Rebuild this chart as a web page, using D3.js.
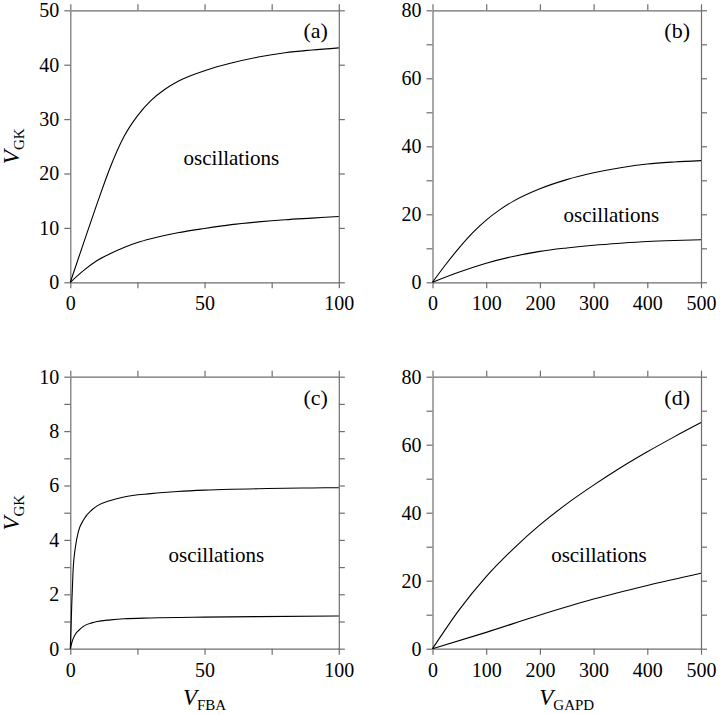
<!DOCTYPE html>
<html>
<head>
<meta charset="utf-8">
<script src="https://cdn.jsdelivr.net/npm/d3@7"></script>
<style>
  body { margin: 0; background: #fff; }
  svg text { font-family: "Liberation Serif", "Tinos", "Times New Roman", "DejaVu Serif", serif; }
</style>
</head>
<body>
<div id="chart"></div>
<script>
// values
// (a) V_GK vs V_FBA
const aXUp = [0, 5, 10, 15, 20, 25, 30, 35, 40, 45, 50, 60, 70, 80, 90, 100];
const aUpper = [0, 7.3, 14.5, 21.3, 26.8, 30.6, 33.4, 35.4, 36.9, 38.0, 38.9, 40.3, 41.4, 42.2, 42.7, 43.1];
const aXLow = [0, 5, 10, 15, 20, 25, 30, 40, 50, 60, 70, 80, 90, 100];
const aLower = [0, 2.2, 4.0, 5.3, 6.4, 7.3, 8.0, 9.1, 9.9, 10.6, 11.1, 11.5, 11.8, 12.1];

// (b) V_GK vs V_GAPD
const bXUp = [0, 25, 50, 75, 100, 125, 150, 200, 250, 300, 350, 400, 450, 500];
const bUpper = [0, 5.3, 10.2, 14.6, 18.3, 21.3, 23.8, 27.5, 30.2, 32.2, 33.7, 34.8, 35.4, 35.8];
const bXLow = [0, 50, 100, 150, 200, 250, 300, 350, 400, 450, 500];
const bLower = [0, 3.0, 5.6, 7.6, 9.1, 10.1, 10.9, 11.5, 12.0, 12.3, 12.5];

// (c) V_GK vs V_FBA
const cXUp = [0, 0.5, 1, 2, 3, 5, 8, 10, 15, 20, 30, 40, 50, 60, 70, 80, 90, 100];
const cUpper = [0, 1.5, 2.8, 3.8, 4.3, 4.75, 5.1, 5.25, 5.45, 5.58, 5.7, 5.78, 5.83, 5.86, 5.88, 5.9, 5.91, 5.92];
const cXLow = [0, 0.5, 1, 2, 3, 5, 8, 10, 15, 20, 30, 50, 70, 100];
const cLower = [0, 0.2, 0.35, 0.55, 0.66, 0.83, 0.95, 1.0, 1.06, 1.1, 1.13, 1.16, 1.18, 1.2];

// (d) V_GK vs V_GAPD
const dXUp = [0, 50, 100, 150, 200, 250, 300, 350, 400, 450, 500];
const dUpper = [0, 11.5, 21.2, 29.3, 36.4, 42.6, 48.1, 53.2, 57.9, 62.3, 66.5];
const dXLow = [0, 100, 200, 300, 400, 500];
const dLower = [0, 4.8, 9.9, 14.6, 18.6, 22.2];

// axis ticks
const fbaTicks = [0, 25, 50, 75, 100];
const gapdTicks = [0, 100, 200, 300, 400, 500];
const aYTicks = [0, 10, 20, 30, 40, 50];
const b80Ticks = d3.range(0, 81, 10);
const cYTicks = d3.range(0, 11, 1);

const W = 720, H = 714;
const pw = 268.5, ph = 272;
const serif = "'Liberation Serif', 'Tinos', 'Times New Roman', 'DejaVu Serif', serif";

const svg = d3.select("#chart").append("svg")
  .attr("width", W)
  .attr("height", H);

const panels = [
  { tag: "(a)", left: 70.3, top: 10.3, xMax: 100, yMax: 50, xTicks: fbaTicks, xStep: 50, yTicks: aYTicks, yStep: 10,
    lines: [[aXUp, aUpper], [aXLow, aLower]], osc: [60, 21.5], yTitle: true, xTitle: null },
  { tag: "(b)", left: 432.5, top: 10.3, xMax: 500, yMax: 80, xTicks: gapdTicks, xStep: 100, yTicks: b80Ticks, yStep: 20,
    lines: [[bXUp, bUpper], [bXLow, bLower]], osc: [333, 17.7], yTitle: false, xTitle: null },
  { tag: "(c)", left: 70.3, top: 376.7, xMax: 100, yMax: 10, xTicks: fbaTicks, xStep: 50, yTicks: cYTicks, yStep: 2,
    lines: [[cXUp, cUpper], [cXLow, cLower]], osc: [54.4, 3.2], yTitle: true, xTitle: "FBA" },
  { tag: "(d)", left: 432.5, top: 376.7, xMax: 500, yMax: 80, xTicks: gapdTicks, xStep: 100, yTicks: b80Ticks, yStep: 20,
    lines: [[dXUp, dUpper], [dXLow, dLower]], osc: [310, 25.6], yTitle: false, xTitle: "GAPD" }
];

const frameColor = "#6e6e6e";

function styleAxis(g) {
  g.attr("font-family", serif);
  g.selectAll("path.domain").attr("stroke", frameColor).attr("stroke-width", 1.2);
  g.selectAll(".tick line").attr("stroke", frameColor).attr("stroke-width", 1.2);
  g.selectAll(".tick text")
    .attr("fill", "#000")
    .attr("font-family", serif)
    .attr("font-size", 20);
}

panels.forEach(p => {
  const x = d3.scaleLinear().domain([0, p.xMax]).range([0, pw]);
  const y = d3.scaleLinear().domain([0, p.yMax]).range([ph, 0]);
  const g = svg.append("g")
    .attr("transform", `translate(${p.left},${p.top})`)
    .attr("font-family", serif);

  const fmtX = d => (d % p.xStep === 0 ? d : "");
  const fmtY = d => (d % p.yStep === 0 ? d : "");

  g.append("g").attr("transform", `translate(0,${ph})`)
    .call(d3.axisBottom(x).tickValues(p.xTicks).tickFormat(fmtX).tickSize(6).tickSizeOuter(0).tickPadding(8))
    .call(styleAxis);
  g.append("g")
    .call(d3.axisTop(x).tickValues(p.xTicks).tickFormat("").tickSize(6).tickSizeOuter(0))
    .call(styleAxis);
  g.append("g")
    .call(d3.axisLeft(y).tickValues(p.yTicks).tickFormat(fmtY).tickSize(6).tickSizeOuter(0).tickPadding(5))
    .call(styleAxis);
  g.append("g").attr("transform", `translate(${pw},0)`)
    .call(d3.axisRight(y).tickValues(p.yTicks).tickFormat("").tickSize(6).tickSizeOuter(0))
    .call(styleAxis);

  const line = d3.line()
    .x(d => x(d[0]))
    .y(d => y(d[1]))
    .curve(d3.curveMonotoneX);

  p.lines.forEach(([xs, ys]) => {
    g.append("path")
      .datum(xs.map((v, i) => [v, ys[i]]))
      .attr("fill", "none")
      .attr("stroke", "#000")
      .attr("stroke-width", 1.1)
      .attr("d", line);
  });

  g.append("text")
    .attr("x", x(p.osc[0]))
    .attr("y", y(p.osc[1]))
    .attr("text-anchor", "middle")
    .attr("font-size", 21)
    .text("oscillations");

  g.append("text")
    .attr("x", pw - 11)
    .attr("y", 28)
    .attr("text-anchor", "end")
    .attr("font-size", 22)
    .text(p.tag);

  if (p.yTitle) {
    const t = g.append("text")
      .attr("transform", `translate(${19 - p.left},${ph / 2}) rotate(-90)`)
      .attr("text-anchor", "middle");
    t.append("tspan").attr("font-style", "italic").attr("font-size", 23).text("V");
    t.append("tspan").attr("font-size", 15).attr("dy", 5).text("GK");
  }
  if (p.xTitle) {
    const t = g.append("text")
      .attr("x", pw / 2)
      .attr("y", ph + 56)
      .attr("text-anchor", "middle");
    t.append("tspan").attr("font-style", "italic").attr("font-size", 23).text("V");
    t.append("tspan").attr("font-size", 15).attr("dy", 5).text(p.xTitle);
  }
});
</script>
</body>
</html>
